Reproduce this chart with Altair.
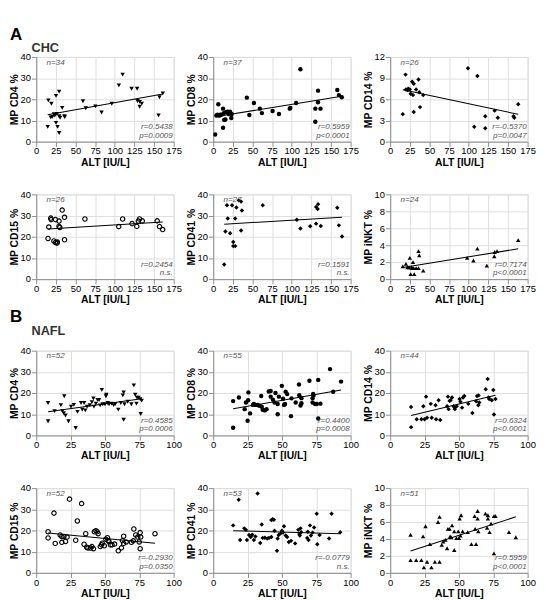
import altair as alt
import pandas as pd

# ---------------- data ----------------
chc_cd4_x = [15.4, 19.3, 14.6, 20.5, 23.6, 25.2, 26.4, 29.2, 29.2, 30.4, 25.2, 27.2, 29.2, 33.1, 35.9, 36.3, 22.5, 18.5,
             59.5, 63.1, 75.3, 83.2, 96.2, 105.2, 110.0, 121.4, 128.5, 128.9, 131.7, 131.7, 134.4, 155.7, 156.9, 161.2]
chc_cd4_y = [19.5, 17.9, 7.0, 11.7, 12.3, 21.6, 13.1, 23.6, 12.0, 11.3, 8.9, 7.0, 4.1, 16.0, 12.0, 11.6, 13.0, 11.5,
             19.1, 15.8, 16.7, 13.8, 17.9, 26.6, 31.7, 25.0, 25.0, 19.2, 18.8, 16.5, 18.0, 12.4, 21.0, 22.8]

chc_cd8_x = [2.5, 4.0, 5.5, 6.5, 7.5, 9.0, 11.0, 12.5, 12.5, 13.5, 14.0, 15.5, 16.5, 18.5, 20.0, 21.5, 23.0, 23.5,
             42.8, 46.0, 51.8, 59.4, 62.0, 75.6, 83.7, 97.4, 98.2, 105.5, 111.0, 130.0, 130.0, 133.4, 133.4, 136.6,
             158.0, 160.0, 163.7]
chc_cd8_y = [3.4, 12.4, 12.7, 17.7, 12.3, 12.7, 12.8, 6.6, 15.6, 13.5, 10.3, 10.5, 14.0, 14.2, 13.0, 14.1, 11.2, 13.1,
             20.8, 12.6, 18.3, 15.6, 13.5, 14.5, 13.1, 15.6, 15.9, 18.3, 34.2, 15.6, 9.4, 24.1, 18.6, 15.6,
             24.4, 22.0, 21.0]

chc_cd14_x = [16, 19.5, 20, 22, 23, 25, 26, 28, 29, 30, 30, 33, 36, 37, 38, 42,
              99, 107, 111, 121, 121, 133, 137, 157, 158, 163]
chc_cd14_y = [3.9, 9.5, 7.4, 7.3, 7.5, 7.4, 6.8, 8.5, 6.6, 8.2, 4.2, 7.4, 8.8, 7.0, 4.9, 6.6,
              10.4, 2.1, 9.3, 3.6, 1.9, 4.4, 3.4, 3.6, 3.4, 5.3]

chc_cd15_x = [15, 16, 18.5, 19, 22.5, 24.5, 24.5, 26.4, 26.8, 29, 29, 30, 33, 36, 36,
              62, 105, 110, 122, 128, 130, 131.5, 135, 154, 157, 161]
chc_cd15_y = [19.2, 24.6, 28.8, 28.1, 18.0, 28.1, 17.3, 17.0, 17.5, 27.4, 24.9, 24.4, 32.6, 29.2, 18.6,
              28.4, 24.8, 28.4, 26.2, 24.9, 27.4, 28.4, 27.5, 27.5, 24.8, 23.4]

chc_cd41_x = [14, 15.5, 17.5, 18.5, 21.5, 24, 25.5, 25.5, 28, 28, 29.5, 32.5, 35.5, 36.5, 35.5,
              63, 106.5, 111, 123.5, 131, 131, 133.5, 133, 137, 158, 160, 164]
chc_cd41_y = [6.9, 22.5, 34.9, 28.6, 21.7, 34.9, 17.5, 15.6, 15.6, 28.6, 33.8, 37.2, 36.6, 32.4, 23.0,
              34.9, 28.0, 23.9, 25.0, 26.2, 34.1, 35.4, 33.1, 25.1, 33.7, 25.4, 20.1]

chc_inkt_x = [16, 20, 22, 24, 25, 26, 27, 28, 29, 30, 30.6, 33, 36, 37, 36, 42,
              98, 106, 111, 123, 132.5, 133, 136, 163]
chc_inkt_y = [1.5, 1.8, 1.4, 1.4, 2.5, 0.6, 1.4, 1.3, 2.0, 1.3, 0.6, 1.3, 3.3, 2.8, 1.3, 1.0,
              2.5, 2.2, 3.6, 1.6, 2.7, 3.2, 3.3, 4.6]

nafl_cd4_x = [8.6, 8.6, 13.3, 17.9, 19, 20, 21.3, 20.4, 23.5, 28.7, 30, 32.6, 34.8, 35.7, 37, 39, 40.5, 41.6,
              42, 43.4, 44.6, 45.7, 47.7, 48.4, 50.7, 51, 50, 52, 53, 54.8, 56.3, 59.7, 61.5, 63, 63.6, 63.6,
              64.2, 69.2, 71, 72, 72.9, 73.3, 74.4, 75.6, 76, 76.7, 25.3, 27.4, 33.5, 46.5, 57.5, 66.5]
nafl_cd4_y = [15.3, 6.7, 11.5, 14.3, 11.5, 10.5, 9.4, 18.5, 6.7, 3.5, 11.1, 15.3, 15.3, 11.8, 13.6, 14.3, 15.7, 17.5,
              13.6, 15.0, 16.8, 16.7, 21.5, 14.7, 18.5, 19.2, 14.7, 15.3, 14.7, 15.0, 14.3, 12.2, 15.3, 18.9, 20.3, 7.4,
              14.7, 14.7, 23.6, 19.2, 15.0, 17.8, 17.8, 17.1, 10.1, 16.4, 13.6, 14.4, 12.2, 14.2, 14.8, 15.9]

nafl_cd8_x = [14.5, 14.5, 18.7, 22.9, 23.8, 25, 25.4, 25.6, 26.8, 28.9, 29.6, 30.7, 32.3, 34.9, 35.3, 36, 37.6,
              38.8, 40.4, 41.8, 41.8, 43.4, 44.6, 45.3, 46.9, 46.9, 47.8, 49.9, 50.8, 51.5, 52.2, 52.7, 53.8,
              56.6, 60, 62.4, 62.6, 63.5, 64.2, 64.2, 70, 72.3, 72.3, 72.7, 73, 74.1, 75.3, 76.4, 76.4, 78,
              85, 87.3, 93, 33.5, 57]
nafl_cd8_y = [3.6, 16.2, 17.9, 12.4, 15.5, 6.9, 16.6, 20.3, 10.4, 14.4, 14.8, 14.4, 14.4, 18.6, 13.5, 12.1, 11.8,
              12.4, 20.7, 21.0, 18.3, 16.9, 15.5, 20.0, 14.8, 10.0, 18.3, 23.4, 17.3, 14.4, 14.8, 20.6, 19.5,
              9.1, 15.5, 24.0, 19.0, 14.1, 15.2, 17.6, 25.8, 15.5, 17.6, 19.6, 18.9, 14.8, 14.8, 26.2, 8.0, 15.0,
              31.3, 20.6, 25.4, 14.0, 17.5]

nafl_cd14_x = [15.2, 15.2, 19.3, 24.1, 22.7, 25, 26.1, 26.8, 29.5, 30.2, 33, 33.4, 35.2, 36.4, 41.4, 42, 42.5,
               43.2, 43.9, 45, 46.1, 47, 47, 48.4, 50.5, 51.1, 52.3, 53, 53.9, 56.8, 59.8, 62.5, 63.2, 64.3,
               64.1, 64.8, 69.5, 70.9, 71.6, 72, 73.9, 75, 75.5, 76.6]
nafl_cd14_y = [13.4, 3.9, 7.6, 13.8, 7.6, 7.6, 18.3, 8.3, 14.9, 8.3, 14.2, 7.6, 16.6, 7.3, 13.8, 18.3, 12.4,
               16.3, 16.6, 17.9, 13.8, 12.4, 13.1, 13.8, 17.2, 15.9, 13.1, 17.9, 18.6, 14.9, 10.6, 16.1, 18.6, 18.9,
               14.2, 15.5, 21.8, 26.6, 17.9, 17.2, 16.6, 21.4, 9.9, 17.2]

nafl_cd15_x = [8.6, 8.6, 12.9, 13.8, 17.4, 18.6, 18.6, 20.1, 21.3, 22.4, 24.2, 28.7, 29.9, 33, 34.8, 36, 36.7,
               37.6, 39.4, 40.5, 41.6, 42.3, 43.4, 44.3, 45, 46.6, 47.5, 48, 49.5, 50.7, 51.8, 52.3, 52.9, 54,
               55.2, 57, 59.7, 62, 62.7, 63.6, 63.6, 65.4, 69.2, 70.6, 71, 72.4, 73.8, 74.9, 75.6, 76, 75.6, 86.4]
nafl_cd15_y = [19.4, 16.5, 28.2, 13.9, 17.9, 17.2, 14.4, 17.2, 14.8, 16.9, 34.8, 15.4, 24.5, 32.7, 13.5, 18.5, 12.1,
               11.7, 11.7, 12.4, 11.4, 19.4, 19.9, 19.4, 18.5, 12.4, 13.2, 14.0, 12.8, 15.9, 16.6, 15.2, 14.8, 13.2,
               13.2, 13.6, 10.4, 11.8, 15.2, 17.3, 13.9, 14.6, 14.4, 15.1, 20.7, 17.9, 16.9, 14.6, 19.0, 16.9, 11.4, 18.5]

nafl_cd41_x = [14.5, 18.5, 19.6, 22.6, 23.8, 24.5, 26.1, 27.3, 28.4, 29.6, 30.7, 32.3, 34.2, 35.3, 36, 37.6, 39.3,
               40.6, 42.3, 42.3, 44.1, 44.6, 46.4, 46.9, 47.6, 49.2, 50, 50.8, 51.5, 52.7, 53.8, 55, 56.6, 59.6,
               61.9, 62.6, 63, 63.5, 68.4, 68.8, 69.3, 70.4, 71.1, 72.3, 73.4, 75.3, 75.7, 77.4, 84.3, 86.1, 92.4,
               43.2, 64]
nafl_cd41_y = [22.4, 34.5, 15.5, 21.0, 20.3, 15.5, 17.9, 16.9, 18.0, 15.5, 17.2, 37.5, 14.1, 22.8, 16.5, 16.6, 16.2,
               16.5, 16.9, 24.9, 25.1, 19.9, 10.4, 16.2, 17.9, 18.7, 19.9, 19.0, 22.0, 17.6, 16.9, 14.6, 15.1, 13.9,
               20.3, 18.3, 17.6, 21.0, 16.5, 19.4, 15.5, 22.4, 17.6, 19.0, 21.4, 27.9, 13.5, 17.9, 16.2, 27.9, 19.2,
               25.3, 19.2]

nafl_inkt_x = [14.8, 14.8, 18.9, 22.7, 23.9, 24.5, 25.7, 26.8, 28.9, 30, 32.5, 35.9, 34.8, 35.9, 37.5, 38.6, 40.2,
               41.4, 42, 43.2, 43.6, 44.3, 45, 46.6, 46.6, 48.2, 49.5, 50, 50.5, 51.1, 51.6, 52.7, 56.4, 59.1,
               61.4, 61.8, 62.5, 63.6, 63.6, 64.1, 69.3, 70.5, 71.1, 71.1, 72.3, 73.4, 75.5, 76.6, 75.5, 86.4, 91.4]
nafl_inkt_y = [4.5, 1.5, 1.5, 1.5, 4.3, 0.65, 5.5, 1.3, 3.4, 0.65, 1.3, 1.3, 6.0, 6.6, 3.3, 3.7, 3.9,
               2.9, 5.2, 5.2, 4.3, 4.2, 5.6, 2.7, 4.9, 4.1, 4.9, 4.1, 6.4, 4.4, 6.8, 4.9, 4.8, 3.4,
               6.7, 5.2, 3.4, 7.3, 6.4, 4.9, 7.0, 5.3, 6.8, 6.4, 4.8, 5.8, 6.7, 6.7, 2.3, 4.8, 4.2]

y_titles = ["MP CD4 %", "MP CD8 %", "MP CD14 %", "MP CD15 %", "MP CD41 %", "MP iNKT %"]
n_labels = ["n=34", "n=37", "n=26", "n=26", "n=27", "n=24", "n=52", "n=55", "n=44", "n=52", "n=53", "n=51"]
r_labels = ["r=0.5438", "r=0.5959", "r=-0.5370", "r=0.2454", "r=0.1591", "r=0.7174",
            "r=0.4585", "r=0.4400", "r=0.6324", "r=-0.2930", "r=-0.0779", "r=0.5959"]
p_labels = ["p=0.0009", "p<0.0001", "p=0.0047", "n.s.", "n.s.", "p<0.0001",
            "p=0.0006", "p=0.0008", "p<0.0001", "p=0.0350", "n.s.", "p<0.0001"]
# y-axis upper limit and tick step for each of the 12 panels
y_max = [40, 40, 12, 40, 40, 10, 40, 40, 40, 40, 40, 10]
y_step = [10, 10, 3, 10, 10, 2, 10, 10, 10, 10, 10, 2]
x_max = [175, 100]
section_letters = ["A", "B"]
section_names = ["CHC", "NAFL"]
x_title = "ALT [IU/L]"

# ---------------- styling ----------------
FONT = "Liberation Sans"
W, H = 146, 90
TXT = "#222222"
ANN = "#555555"
HEADER_Y = [-32, -44]
SPACER = 24

shapes = ["triangle-down", "circle", "diamond", "circle", "diamond", "triangle-up"]
fills = [True, True, True, False, True, True]


def text_layer(label, x, y, **kw):
    return alt.Chart(pd.DataFrame({"t": [label]})).mark_text(font=FONT, **kw).encode(
        text="t:N", x=alt.value(x), y=alt.value(y))


def panel(idx, xs, ys, xmax, header=None, spacer=None):
    k = idx % 6
    df = pd.DataFrame({"x": xs, "y": ys})
    xenc = alt.X("x:Q", title=x_title,
                 scale=alt.Scale(domain=[0, xmax], nice=False, zero=True),
                 axis=alt.Axis(values=list(range(0, xmax + 1, 25)), labelOverlap=False, labelFlush=False,
                               labelPadding=0, titlePadding=1))
    yenc = alt.Y("y:Q", title=y_titles[k],
                 scale=alt.Scale(domain=[0, y_max[idx]], nice=False, zero=True),
                 axis=alt.Axis(values=list(range(0, y_max[idx] + 1, y_step[idx])), labelOverlap=False,
                               labelFlush=False, labelPadding=1, titlePadding=1))
    base = alt.Chart(df)
    if fills[k]:
        pts = base.mark_point(shape=shapes[k], filled=True, size=22, color="black", opacity=1, clip=True)
    else:
        pts = base.mark_point(shape=shapes[k], filled=False, size=22, color="black", opacity=1,
                              strokeWidth=1.2, clip=True)
    pts = pts.encode(x=xenc, y=yenc)
    line = base.transform_regression("x", "y").mark_line(color="black", strokeWidth=1.1, clip=True).encode(
        x=xenc, y=yenc)
    layers = [pts, line,
              text_layer(n_labels[idx], 11, 5, align="left", baseline="middle", fontSize=8.5,
                         fontStyle="italic", color=ANN),
              text_layer(r_labels[idx], W - 1, H * 0.82, align="right", baseline="middle", fontSize=8.5,
                         fontStyle="italic", color=ANN),
              text_layer(p_labels[idx], W - 1, H * 0.92, align="right", baseline="middle", fontSize=8.5,
                         fontStyle="italic", color=ANN)]
    if header is not None:
        letter, name, visible, hy = header
        if visible:
            layers.append(text_layer(letter, -28, hy, align="left", baseline="top",
                                     fontSize=18, fontWeight="bold", color="black"))
            layers.append(text_layer(name, -5, hy + 16, align="left", baseline="top",
                                     fontSize=13.5, fontWeight="bold", color="#333333"))
        else:
            # invisible text that keeps the panels of one row aligned
            layers.append(text_layer(letter, 40, hy, align="left", baseline="top",
                                     fontSize=18, fontWeight="bold", color="white"))
    if spacer is not None:
        layers.append(text_layer("A", 40, -spacer, align="left", baseline="top", fontSize=8, color="white"))
    return alt.layer(*layers).properties(width=W, height=H)


chc = [(chc_cd4_x, chc_cd4_y), (chc_cd8_x, chc_cd8_y), (chc_cd14_x, chc_cd14_y),
       (chc_cd15_x, chc_cd15_y), (chc_cd41_x, chc_cd41_y), (chc_inkt_x, chc_inkt_y)]
nafl = [(nafl_cd4_x, nafl_cd4_y), (nafl_cd8_x, nafl_cd8_y), (nafl_cd14_x, nafl_cd14_y),
        (nafl_cd15_x, nafl_cd15_y), (nafl_cd41_x, nafl_cd41_y), (nafl_inkt_x, nafl_inkt_y)]

rows = []
for s, group in enumerate([chc, nafl]):
    top = []
    bottom = []
    for j in range(3):
        hdr = (section_letters[s], section_names[s], j == 0, HEADER_Y[s])
        top.append(panel(s * 6 + j, group[j][0], group[j][1], x_max[s], header=hdr))
        bottom.append(panel(s * 6 + j + 3, group[j + 3][0], group[j + 3][1], x_max[s], spacer=SPACER))
    rows.append(alt.hconcat(*top, spacing=3))
    rows.append(alt.hconcat(*bottom, spacing=3))

chart = alt.vconcat(*rows, spacing=3).properties(
    padding={"left": 0, "top": 0, "right": 2, "bottom": 2}
).configure_view(stroke=None).configure_axis(
    grid=False, domainColor="black", domainWidth=1, tickColor="black", tickWidth=1, tickSize=3,
    labelFont=FONT, labelFontSize=8, labelFontWeight="bold", labelColor=TXT,
    titleFont=FONT, titleFontSize=8.5, titleFontWeight="bold", titleColor=TXT
).configure(background="white")

chart.save("out.html", embed_options={"renderer": "svg", "actions": False})
